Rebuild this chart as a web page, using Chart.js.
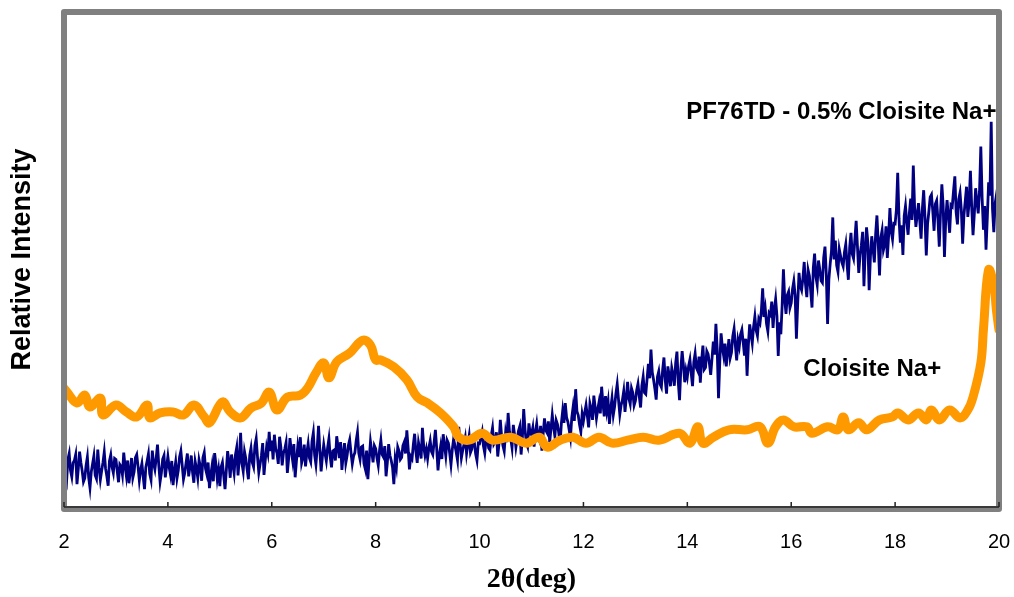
<!DOCTYPE html>
<html>
<head>
<meta charset="utf-8">
<script src="https://cdn.jsdelivr.net/npm/chart.js@4.4.1/dist/chart.umd.min.js"></script>
<style>
  html, body { margin: 0; padding: 0; background: #fff; }
  #wrap { width: 1014px; height: 597px; position: relative; }
</style>
</head>
<body>
<div id="wrap"><canvas id="xrdChart"></canvas></div>
<script>
// PF76TD - 0.5% Cloisite Na+ : scan from 2 to 20 deg, one reading every 0.025 deg
const compositeStart = 2;
const compositeStep = 0.025;
const compositeIntensity = [
  8.5, 6.3, 5.2, 9.6, 10.8, 7.4, 6.1, 8.9, 9.4, 10.6, 4.6, 7.7, 11.2, 9.0, 7.3, 5.1, 5.8, 8.4, 10.1, 6.0,
  3.9, 7.1, 8.7, 10.3, 6.4, 5.7, 11.6, 8.0, 5.5, 7.3, 9.0, 11.1, 7.8, 6.2, 4.3, 9.3, 10.5, 8.1, 6.9, 9.8,
  9.6, 7.2, 5.0, 8.6, 8.2, 6.5, 11.0, 8.3, 6.3, 9.4, 4.8, 7.0, 9.9, 5.9, 7.1, 10.0, 10.6, 8.2, 5.4, 7.5,
  8.8, 6.1, 3.6, 8.0, 9.3, 10.7, 6.7, 5.5, 11.4, 8.8, 7.6, 9.9, 12.6, 8.4, 5.1, 6.9, 9.7, 10.4, 6.0, 8.1,
  10.2, 8.0, 6.5, 9.3, 4.4, 7.2, 9.1, 5.8, 7.4, 10.1, 11.3, 8.5, 5.6, 6.9, 8.9, 10.8, 6.2, 8.1, 10.4, 7.0,
  4.9, 9.2, 7.8, 5.9, 9.5, 8.2, 5.3, 10.0, 11.0, 7.7, 6.6, 9.0, 3.8, 6.4, 8.3, 5.2, 10.9, 8.6, 5.7, 7.5,
  4.2, 8.1, 9.0, 6.3, 3.6, 7.4, 11.3, 9.2, 5.9, 10.6, 8.6, 6.8, 10.5, 12.0, 6.4, 9.7, 15.0, 8.8, 7.2, 11.2,
  9.8, 7.6, 5.6, 10.4, 11.9, 9.0, 8.1, 12.4, 13.8, 10.1, 7.0, 8.7, 10.3, 12.9, 6.5, 9.5, 12.1, 10.8, 15.2, 11.3,
  13.4, 9.6, 14.6, 11.8, 10.9, 8.7, 14.2, 12.1, 8.4, 10.9, 11.7, 13.0, 6.9, 9.8, 13.9, 11.4, 9.5, 12.7, 6.0, 9.3,
  12.2, 10.1, 14.1, 8.9, 10.0, 12.6, 8.2, 11.0, 12.8, 9.9, 9.1, 13.3, 15.0, 10.5, 8.6, 12.0, 16.4, 11.5, 7.2, 10.3,
  12.6, 10.8, 9.3, 12.0, 13.8, 10.2, 8.0, 11.3, 11.5, 9.4, 14.3, 12.2, 9.9, 13.1, 7.5, 10.6, 12.9, 8.9, 10.4, 12.5,
  13.6, 11.0, 8.7, 10.3, 11.0, 13.4, 15.1, 10.9, 9.6, 12.1, 12.3, 8.8, 7.7, 11.4, 5.6, 9.6, 13.2, 11.2, 9.0, 12.4,
  11.8, 9.9, 8.4, 11.5, 13.5, 10.6, 10.1, 12.3, 6.2, 9.0, 12.7, 10.4, 9.4, 8.0, 4.6, 9.7, 8.1, 12.1, 11.3, 9.6,
  10.0, 12.4, 13.1, 10.8, 15.5, 11.9, 7.6, 10.2, 9.7, 12.6, 14.8, 11.1, 8.9, 13.0, 11.6, 9.8, 16.0, 12.2, 10.4, 11.7,
  9.8, 12.0, 13.4, 11.2, 10.6, 13.1, 15.6, 11.8, 7.4, 10.5, 12.2, 9.7, 14.7, 12.4, 10.3, 13.5, 12.9, 10.9, 8.6, 11.6,
  13.7, 12.5, 11.1, 9.5, 16.2, 12.8, 9.9, 11.4, 12.6, 14.0, 10.8, 12.7, 14.4, 11.0, 11.7, 13.6, 13.0, 10.7, 9.4, 12.9,
  12.8, 14.0, 15.2, 12.3, 10.9, 13.6, 14.1, 11.9, 11.5, 14.4, 16.0, 12.7, 13.2, 15.1, 10.2, 12.9, 17.6, 14.2, 12.4, 11.3,
  14.9, 13.1, 19.0, 15.3, 13.8, 12.0, 16.6, 14.5, 12.1, 13.9, 15.4, 16.3, 10.6, 14.1, 19.8, 15.7, 13.0, 12.2, 16.9, 14.8,
  14.6, 16.0, 12.2, 15.1, 16.8, 14.2, 13.5, 16.4, 11.4, 14.8, 17.9, 15.5, 15.0, 17.3, 13.1, 15.8, 18.6, 16.2, 14.3, 17.5,
  16.7, 15.0, 12.8, 16.9, 19.4, 17.0, 21.0, 18.1, 17.2, 15.6, 14.0, 18.0, 20.1, 17.4, 23.8, 19.3, 18.5, 16.6, 15.2, 18.8,
  17.4, 19.1, 20.6, 18.4, 16.1, 20.9, 19.8, 17.6, 22.5, 20.2, 17.9, 19.7, 21.2, 18.9, 24.3, 21.0, 18.3, 22.4, 19.5, 21.3,
  16.8, 19.9, 22.0, 18.6, 20.3, 22.9, 24.8, 21.7, 18.7, 20.6, 21.6, 23.4, 19.2, 22.1, 25.3, 21.9, 20.8, 24.0, 23.1, 20.5,
  21.4, 23.6, 24.9, 22.3, 20.1, 24.5, 26.3, 23.1, 22.8, 25.9, 28.9, 26.0, 31.8, 27.2, 25.7, 23.9, 21.7, 26.3, 27.4, 24.8,
  24.2, 27.7, 30.2, 25.6, 22.9, 28.4, 26.6, 24.4, 28.1, 26.7, 24.5, 29.0, 31.4, 25.3, 21.6, 27.9, 31.5, 28.6, 25.2, 27.6,
  26.3, 28.5, 29.8, 27.0, 24.4, 29.3, 31.0, 28.1, 27.5, 30.4, 25.1, 29.6, 32.6, 27.8, 28.2, 31.5, 30.9, 29.0, 26.7, 30.0,
  33.4, 30.8, 37.0, 31.9, 22.0, 29.4, 35.1, 32.2, 30.5, 33.0, 28.4, 31.3, 33.9, 30.1, 31.2, 34.5, 36.0, 32.6, 29.6, 33.7,
  32.4, 34.9, 35.8, 33.3, 30.6, 34.0, 26.5, 32.7, 36.9, 35.0, 33.1, 36.4, 38.5, 35.7, 34.6, 37.9, 37.2, 39.6, 44.2, 38.4,
  40.1, 37.0, 35.5, 39.2, 38.8, 41.5, 36.2, 39.9, 42.0, 38.6, 30.5, 37.3, 34.9, 40.6, 48.0, 41.9, 39.0, 42.8, 43.5, 40.2,
  41.2, 44.0, 45.6, 42.8, 34.0, 41.1, 47.3, 44.6, 43.8, 46.2, 49.5, 45.0, 42.4, 47.9, 46.7, 43.6, 40.3, 48.3, 51.2, 46.5,
  44.9, 49.8, 48.0, 45.7, 45.3, 50.4, 52.6, 47.1, 37.0, 46.0, 49.1, 51.7, 58.5, 50.0, 53.8, 48.8, 47.5, 52.1, 50.7, 49.4,
  48.6, 51.5, 53.1, 49.0, 45.9, 52.4, 55.4, 51.1, 50.2, 54.0, 57.8, 52.6, 47.3, 50.9, 52.9, 55.6, 44.6, 51.8, 56.5, 53.5,
  43.8, 50.6, 54.7, 52.2, 49.4, 55.1, 58.9, 53.3, 46.8, 54.4, 55.9, 51.9, 53.0, 56.7, 50.3, 54.8, 60.4, 55.7, 54.1, 57.3,
  57.2, 60.1, 67.5, 58.3, 53.4, 56.9, 50.9, 58.8, 60.8, 57.5, 55.0, 59.4, 62.3, 58.0, 69.0, 60.6, 56.6, 59.0, 61.4, 57.8,
  54.2, 60.3, 64.0, 58.5, 50.8, 57.2, 59.7, 62.6, 63.1, 59.8, 55.8, 61.2, 61.9, 57.9, 52.6, 59.6, 65.2, 60.9, 50.5, 58.1,
  62.0, 58.7, 55.4, 61.0, 60.7, 63.9, 66.8, 59.5, 57.1, 62.2, 63.5, 60.0, 53.2, 58.9, 61.8, 64.7, 58.6, 61.6, 67.9, 60.4,
  54.9, 59.2, 64.4, 61.7, 59.3, 63.8, 72.8, 62.5, 56.0, 60.8, 52.0, 58.4, 65.6, 62.9, 77.8, 60.2, 55.5, 61.3, 63.0, 59.1,
  61.5
];

// Cloisite Na+
const clayTwoTheta = [
  2.0, 2.06, 2.25, 2.4, 2.5, 2.7, 2.75, 3.0, 3.2, 3.4, 3.6, 3.65, 3.85, 4.1, 4.3, 4.5, 4.7, 4.8,
  5.05, 5.2, 5.4, 5.6, 5.8, 5.95, 6.1, 6.3, 6.55, 6.7, 6.85, 7.0, 7.1, 7.25, 7.5, 7.75, 7.9,
  8.0, 8.1, 8.35, 8.6, 8.8, 9.0, 9.25, 9.5, 9.6, 9.8, 10.05, 10.25, 10.6, 10.9, 11.15, 11.3,
  11.55, 11.8, 12.05, 12.3, 12.55, 12.85, 13.15, 13.45, 13.85, 14.05, 14.2, 14.3, 14.5, 14.8,
  15.15, 15.4, 15.55, 15.7, 15.85, 16.05, 16.3, 16.4, 16.7, 16.9, 17.0, 17.1, 17.3, 17.45,
  17.7, 17.95, 18.05, 18.25, 18.45, 18.6, 18.7, 18.85, 19.05, 19.25, 19.4, 19.5, 19.65, 19.7,
  19.8, 19.9, 19.95, 20.0
];
const clayIntensity = [
  24.0, 23.2, 21.0, 22.6, 20.2, 22.0, 18.6, 20.6, 19.2, 18.2, 20.6, 18.0, 19.0, 19.2, 18.6, 20.6, 18.2, 17.0,
  21.2, 19.2, 18.0, 20.0, 21.0, 23.2, 19.6, 22.2, 22.6, 24.2, 27.1, 29.1, 26.1, 29.3, 31.1, 33.7, 32.7,
  29.7, 29.7, 28.3, 25.7, 22.2, 21.0, 19.0, 16.2, 14.1, 13.5, 14.9, 13.5, 14.1, 12.9, 14.1, 12.1,
  13.5, 14.1, 12.9, 14.1, 12.9, 13.5, 14.1, 13.5, 14.9, 12.9, 16.2, 12.9, 14.1, 15.6,
  15.6, 16.2, 12.9, 16.2, 17.6, 16.2, 16.2, 14.9, 16.2, 15.6, 18.2, 15.6, 17.0, 15.6,
  17.6, 18.2, 19.0, 17.6, 19.0, 17.6, 19.6, 17.6, 19.6, 18.0, 19.6, 22.2, 29.1, 35.8,
  47.9, 44.8, 39.8, 35.8
];

const xTicks = [2, 4, 6, 8, 10, 12, 14, 16, 18, 20];
const seriesNames = ["PF76TD - 0.5% Cloisite Na+", "Cloisite Na+"];
// where each series name is written, in data units [2θ, intensity]
const seriesNameAt = [[19.95, 79.8], [16.23, 27.9]];

const compositePoints = compositeIntensity.map((v, i) => ({
  x: compositeStart + i * compositeStep,
  y: v,
}));
const clayPoints = clayIntensity.map((v, i) => ({ x: clayTwoTheta[i], y: v }));

const framePlugin = {
  id: "frame",
  afterDatasetsDraw(chart) {
    const { ctx, chartArea: a, scales } = chart;
    ctx.save();
    ctx.strokeStyle = "#808080";
    ctx.lineWidth = 6;
    ctx.lineJoin = "round";
    ctx.strokeRect(a.left, a.top, a.right - a.left, a.bottom + 2 - a.top);

    ctx.strokeStyle = "#222";
    ctx.lineWidth = 1.5;
    ctx.beginPath();
    ctx.moveTo(a.left, a.bottom);
    ctx.lineTo(a.right, a.bottom);
    xTicks.forEach((t) => {
      const px = scales.x.getPixelForValue(t);
      ctx.moveTo(px, a.bottom);
      ctx.lineTo(px, a.bottom - 5);
    });
    ctx.stroke();

    ctx.fillStyle = "#000";
    ctx.font = "bold 24px 'Liberation Sans', Arial, sans-serif";
    ctx.textBaseline = "middle";
    ctx.textAlign = "right";
    ctx.fillText(
      seriesNames[0],
      scales.x.getPixelForValue(seriesNameAt[0][0]),
      scales.y.getPixelForValue(seriesNameAt[0][1])
    );
    ctx.textAlign = "left";
    ctx.fillText(
      seriesNames[1],
      scales.x.getPixelForValue(seriesNameAt[1][0]),
      scales.y.getPixelForValue(seriesNameAt[1][1])
    );
    ctx.restore();
  },
};

new Chart(document.getElementById("xrdChart"), {
  type: "line",
  data: {
    datasets: [
      {
        label: seriesNames[1],
        data: clayPoints,
        borderColor: "#FF9900",
        borderWidth: 9,
        borderCapStyle: "round",
        borderJoinStyle: "round",
        tension: 0.4,
        pointRadius: 0,
      },
      {
        label: seriesNames[0],
        data: compositePoints,
        borderColor: "#000080",
        borderWidth: 2.8,
        tension: 0,
        pointRadius: 0,
      },
    ],
  },
  options: {
    responsive: true,
    maintainAspectRatio: false,
    animation: false,
    layout: { padding: { top: 12, right: 15, bottom: 0, left: 0 } },
    plugins: {
      legend: { display: false },
      tooltip: { enabled: false },
    },
    scales: {
      x: {
        type: "linear",
        min: 2,
        max: 20,
        afterBuildTicks: (scale) => {
          scale.ticks = xTicks.map((v) => ({ value: v }));
        },
        afterFit: (scale) => {
          scale.height = 90;
          scale.paddingLeft = 0;
          scale.paddingRight = 0;
        },
        grid: { display: false, drawTicks: false },
        border: { display: false },
        ticks: {
          color: "#000",
          padding: 23,
          maxRotation: 0,
          font: { family: "'Liberation Sans', Arial, sans-serif", size: 20 },
        },
        title: {
          display: true,
          text: "2θ(deg)",
          color: "#000",
          padding: { top: 0, bottom: 0 },
          font: { family: "'Liberation Serif', 'Times New Roman', serif", size: 28, weight: "bold" },
        },
      },
      y: {
        min: 0,
        max: 100,
        afterFit: (scale) => {
          scale.width = 64;
        },
        grid: { display: false, drawTicks: false },
        border: { display: false },
        ticks: { display: false },
        title: {
          display: true,
          text: "Relative Intensity",
          color: "#000",
          padding: { top: 6, bottom: 0 },
          font: { family: "'Liberation Sans', Arial, sans-serif", size: 27, weight: "bold" },
        },
      },
    },
  },
  plugins: [framePlugin],
});
</script>
</body>
</html>
